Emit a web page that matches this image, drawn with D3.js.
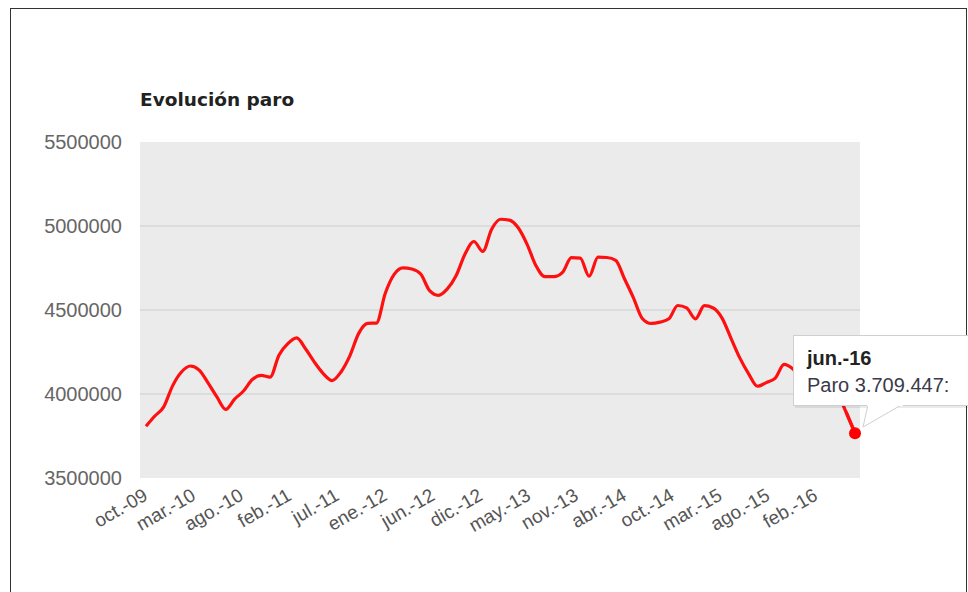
<!DOCTYPE html>
<html>
<head>
<meta charset="utf-8">
<script src="https://cdn.jsdelivr.net/npm/d3@7"></script>
<style>
  body { margin: 0; background: #fff; }
  svg { display: block; font-family: "Liberation Sans", Arial, sans-serif; }
</style>
</head>
<body>
<div id="chart"></div>
<script>
// paro registrado, one value per month, oct.-09 .. jun.-16
var paro = [
  3808353, 3868946, 3923603,
  4048493, 4130625, 4166613, 4142425, 4066202, 3982368, 3908149, 3969661, 4017763, 4085976, 4110294, 4100073,
  4231003, 4299263, 4333669, 4269360, 4189659, 4121801, 4079742, 4130927, 4226744, 4360926, 4420462, 4422359,
  4599829, 4712098, 4750867, 4744235, 4714122, 4615269, 4587455, 4625634, 4705279, 4833521, 4907817, 4848723,
  4980778, 5040222, 5035243, 4989193, 4890928, 4763680, 4698814, 4698783, 4724355, 4811383, 4808908, 4701338,
  4814435, 4812486, 4795866, 4684301, 4572385, 4449701, 4419860, 4427930, 4447650, 4526804, 4512153, 4447711,
  4525691, 4512116, 4451939, 4333016, 4215031, 4120304, 4046276, 4067955, 4094042, 4176369, 4149298, 4093508,
  4150755, 4152986, 4094770, 4011171, 3891403, 3767054
];

var xTickLabels = ["oct.-09", "mar.-10", "ago.-10", "feb.-11", "jul.-11", "ene.-12", "jun.-12", "dic.-12",
                   "may.-13", "nov.-13", "abr.-14", "oct.-14", "mar.-15", "ago.-15", "feb.-16"];
var yTicks = [3500000, 4000000, 4500000, 5000000, 5500000];

var title = "Evolución paro";
var tipTitle = "jun.-16";
var tipText = "Paro 3.709.447:";

var width = 968, height = 592;
var plot = { left: 140, right: 860, top: 142, bottom: 478 };
var monthsPerLabel = 5.4;

var svg = d3.select("#chart").append("svg")
  .attr("width", width)
  .attr("height", height);

// outer frame
svg.append("rect")
  .attr("x", 10.5).attr("y", 8.5)
  .attr("width", 956).attr("height", 600)
  .attr("fill", "none")
  .attr("stroke", "#333")
  .attr("stroke-width", 1);

var x = d3.scaleLinear().domain([0, paro.length - 1]).range([146, 855]);
var y = d3.scaleLinear().domain([3500000, 5500000]).range([plot.bottom, plot.top]);

svg.append("rect")
  .attr("x", plot.left).attr("y", plot.top)
  .attr("width", plot.right - plot.left)
  .attr("height", plot.bottom - plot.top)
  .attr("fill", "#ebebeb");

// grid lines
svg.append("g")
  .selectAll("line")
  .data(yTicks.slice(1, -1))
  .join("line")
  .attr("x1", plot.left).attr("x2", plot.right)
  .attr("y1", d => y(d)).attr("y2", d => y(d))
  .attr("stroke", "#dcdcdc")
  .attr("stroke-width", 2);

// y axis labels
var yAxis = svg.append("g")
  .attr("transform", "translate(" + (plot.left - 18) + ",0)")
  .call(d3.axisLeft(y).tickValues(yTicks).tickSize(0).tickPadding(0).tickFormat(d3.format("d")));
yAxis.select(".domain").remove();
yAxis.selectAll("text")
  .attr("font-size", 20)
  .attr("font-family", "Liberation Sans, Arial, sans-serif")
  .attr("fill", "#666");

// x axis labels, evenly spaced like the original
var xl = d3.scaleLinear().domain([0, 1]).range([0, monthsPerLabel]);
svg.append("g")
  .selectAll("text")
  .data(xTickLabels)
  .join("text")
  .attr("transform", (d, i) => "translate(" + (x(xl(i)) + 3) + ",499) rotate(-30)")
  .attr("text-anchor", "end")
  .attr("font-size", 19)
  .attr("fill", "#555")
  .text(d => d);

// title
svg.append("text")
  .attr("x", 140).attr("y", 106)
  .attr("font-family", "DejaVu Sans, Verdana, sans-serif")
  .attr("font-size", 18.5)
  .attr("font-weight", "bold")
  .attr("fill", "#222")
  .text(title);

// line
var line = d3.line()
  .x((d, i) => x(i))
  .y(d => y(d))
  .curve(d3.curveMonotoneX);

svg.append("path")
  .datum(paro)
  .attr("d", line)
  .attr("fill", "none")
  .attr("stroke", "#ff1010")
  .attr("stroke-width", 3.2)
  .attr("stroke-linejoin", "round");

var last = paro.length - 1;

// tooltip
var tip = svg.append("g");
var bx = 793, by = 335, bw = 180, bh = 70;
tip.append("rect")
  .attr("x", bx + 2).attr("y", by + 3)
  .attr("width", bw).attr("height", bh)
  .attr("fill", "#000").attr("opacity", 0.08);
tip.append("rect")
  .attr("x", bx + 0.5).attr("y", by + 0.5)
  .attr("width", bw).attr("height", bh)
  .attr("fill", "#fff")
  .attr("stroke", "#cfcfcf");
var tailTip = [x(last) + 8, y(paro[last]) - 6];
tip.append("path")
  .attr("d", "M" + 868 + "," + (by + bh - 0.5) + "L" + tailTip[0] + "," + tailTip[1] + "L" + 902 + "," + (by + bh - 0.5))
  .attr("fill", "#fff")
  .attr("stroke", "#cfcfcf");
tip.append("rect")
  .attr("x", 867).attr("y", by + bh - 2)
  .attr("width", 36).attr("height", 3)
  .attr("fill", "#fff");
tip.append("text")
  .attr("x", 807).attr("y", 365)
  .attr("font-size", 20)
  .attr("font-weight", "bold")
  .attr("fill", "#222")
  .text(tipTitle);
tip.append("text")
  .attr("x", 807).attr("y", 392)
  .attr("font-size", 20)
  .attr("fill", "#3a3a4a")
  .text(tipText);

// last segment drawn again above the tooltip, then the highlighted point
svg.append("clipPath").attr("id", "below")
  .append("rect").attr("x", 0).attr("y", by + bh + 1).attr("width", width).attr("height", 200);
svg.append("path")
  .datum(paro.slice(last - 1))
  .attr("d", d3.line().x((d, i) => x(last - 1 + i)).y(d => y(d)))
  .attr("fill", "none")
  .attr("stroke", "#ff1010")
  .attr("stroke-width", 3.2)
  .attr("clip-path", "url(#below)");

svg.append("circle")
  .attr("cx", x(last)).attr("cy", y(paro[last]))
  .attr("r", 6)
  .attr("fill", "#ff0000");
</script>
</body>
</html>
